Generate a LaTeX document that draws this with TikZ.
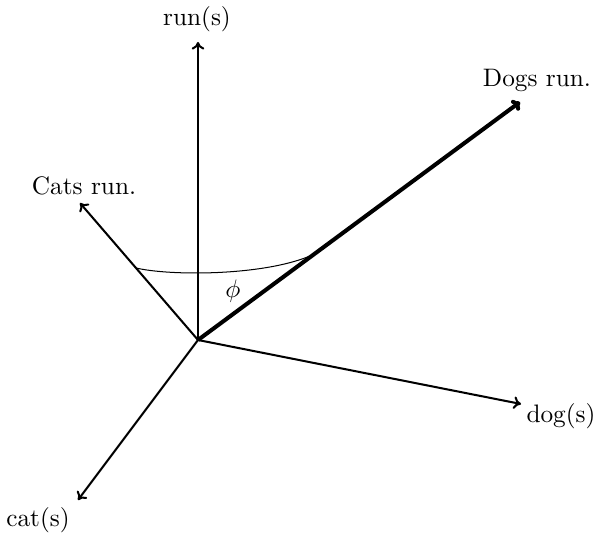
\documentclass[tikz,border=0pt]{standalone}
\usetikzlibrary{arrows.meta}
\begin{document}
\begin{tikzpicture}[x=0.0139cm,y=-0.0139cm,
  axis/.style={thick,-{To[length=3pt,width=5pt]}},
  vec/.style={line width=1.6pt,-{To[length=3pt,width=5pt]}},
  lab/.style={inner sep=1pt}]
\useasboundingbox (0,0) rectangle (596,537);
\coordinate (O) at (198,340);
\coordinate (R) at (198,42);
\coordinate (C) at (80,203);
\coordinate (D) at (520,102);
\coordinate (DG) at (521,404);
\coordinate (CT) at (78,500);
\draw[axis] (O) -- (R);
\draw[axis] (O) -- (C);
\draw[axis] (O) -- (DG);
\draw[axis] (O) -- (CT);
\draw[vec] (O) -- (D);
\coordinate (A1) at (136,268);
\coordinate (A2) at (310,256);
\draw[thin] (A1) .. controls (170,276) and (262,276) .. (A2);
\node[lab] (lr) at (197,19) {run(s)};
\node[lab] (lc) at (84,186) {Cats run.};
\node[lab] (ld) at (537,80) {Dogs run.};
\node[lab] (ldg) at (561,416) {dog(s)};
\node[lab] (lct) at (38,520) {cat(s)};
\node[lab] (phi) at (233,291) {$\phi$};
\end{tikzpicture}
\end{document}
